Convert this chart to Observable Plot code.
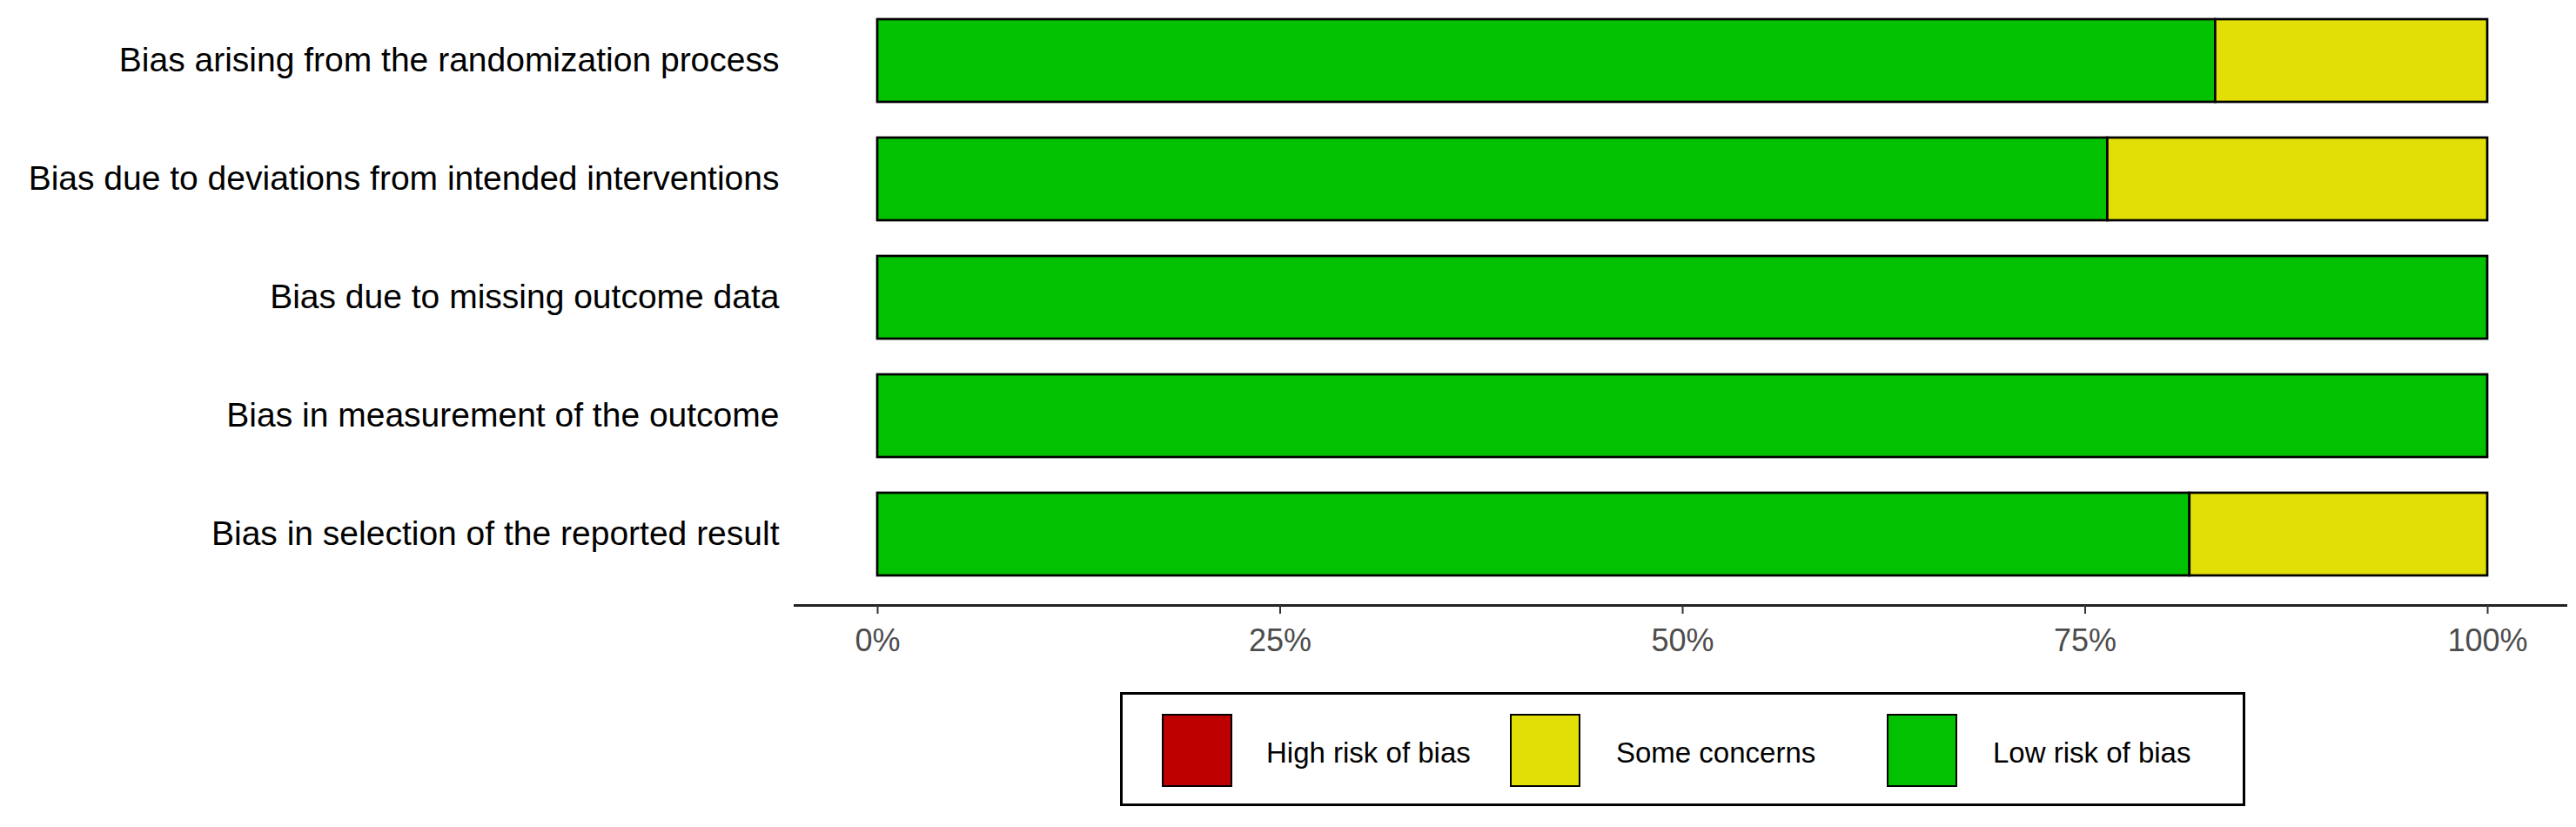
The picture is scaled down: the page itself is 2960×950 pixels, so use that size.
<!DOCTYPE html>
<html>
<head>
<meta charset="utf-8">
<script src="https://cdn.jsdelivr.net/npm/d3@7"></script>
<script src="https://cdn.jsdelivr.net/npm/@observablehq/plot@0.6"></script>
<style>
  html, body { margin: 0; padding: 0; background: #ffffff; }
  #wrap { width: 2960px; height: 950px; position: relative; font-family: "Liberation Sans", Arial, sans-serif; }
  .legend { position: relative; box-sizing: border-box; width: 1293px; height: 131px; border: 3px solid #000; margin-left: 1287px; margin-top: 15px; background: #fff; }
  .legend .key { position: absolute; box-sizing: border-box; width: 81px; height: 84px; border: 2.5px solid #000; top: 22px; }
  .legend .lab { position: absolute; font-size: 33px; line-height: 33px; top: 50px; color: #000; white-space: nowrap; }
</style>
</head>
<body>
<div id="wrap"></div>
<script>
// ---- data ----
const categories = [
  "Bias arising from the randomization process",
  "Bias due to deviations from intended interventions",
  "Bias due to missing outcome data",
  "Bias in measurement of the outcome",
  "Bias in selection of the reported result"
];
const lowRisk      = [83.1, 76.4, 100, 100, 81.5];
const someConcerns = [16.9, 23.6, 0, 0, 18.5];
const highRisk     = [0, 0, 0, 0, 0];
const levels = ["Low risk of bias", "Some concerns", "High risk of bias"];
const levelColors = ["#02C100", "#E2DF07", "#BF0000"];
const legendOrder = ["High risk of bias", "Some concerns", "Low risk of bias"];
const xTicks = [0, 25, 50, 75, 100];

// ---- table ----
const series = [lowRisk, someConcerns, highRisk];
const table = [];
categories.forEach((c, i) => {
  levels.forEach((lv, j) => {
    if (series[j][i] > 0) table.push({domain: c, level: lv, value: series[j][i]});
  });
});

const chart = Plot.plot({
  width: 2960,
  height: 780,
  marginLeft: 913,
  marginRight: 12,
  marginTop: 0,
  marginBottom: 85,
  style: {fontFamily: "'Liberation Sans', Arial, sans-serif", fontSize: "36px", background: "#ffffff"},
  x: {domain: [0, 100], insetLeft: 95, insetRight: 90},
  y: {domain: categories, paddingInner: 0.3, paddingOuter: 0.1977, align: 0.3895},
  color: {domain: levels, range: levelColors},
  marks: [
    Plot.barX(table, Plot.stackX({y: "domain", x: "value", fill: "level", stroke: "#000", strokeWidth: 2.7, order: null})),
    Plot.frame({anchor: "bottom", stroke: "#222222", strokeWidth: 3}),
    Plot.axisX({ticks: xTicks, tickFormat: d => d + "%", tickSize: 10, tickPadding: 17, stroke: "#333333", strokeWidth: 2, fill: "#4D4D4D", fontSize: 36, label: null}),
    Plot.axisY({tickSize: 0, tickPadding: 18, fill: "#000", fontSize: 39, label: null})
  ]
});

const wrap = document.getElementById("wrap");
wrap.appendChild(chart);

// ---- legend ----
const legend = document.createElement("div");
legend.className = "legend";
const keyLeft = [45, 445, 878];
const labLeft = [165, 567, 1000];
legendOrder.forEach((lv, i) => {
  const k = document.createElement("div");
  k.className = "key";
  k.style.left = keyLeft[i] + "px";
  k.style.background = levelColors[levels.indexOf(lv)];
  legend.appendChild(k);
  const t = document.createElement("span");
  t.className = "lab";
  t.style.left = labLeft[i] + "px";
  t.textContent = lv;
  legend.appendChild(t);
});
wrap.appendChild(legend);
</script>
</body>
</html>
